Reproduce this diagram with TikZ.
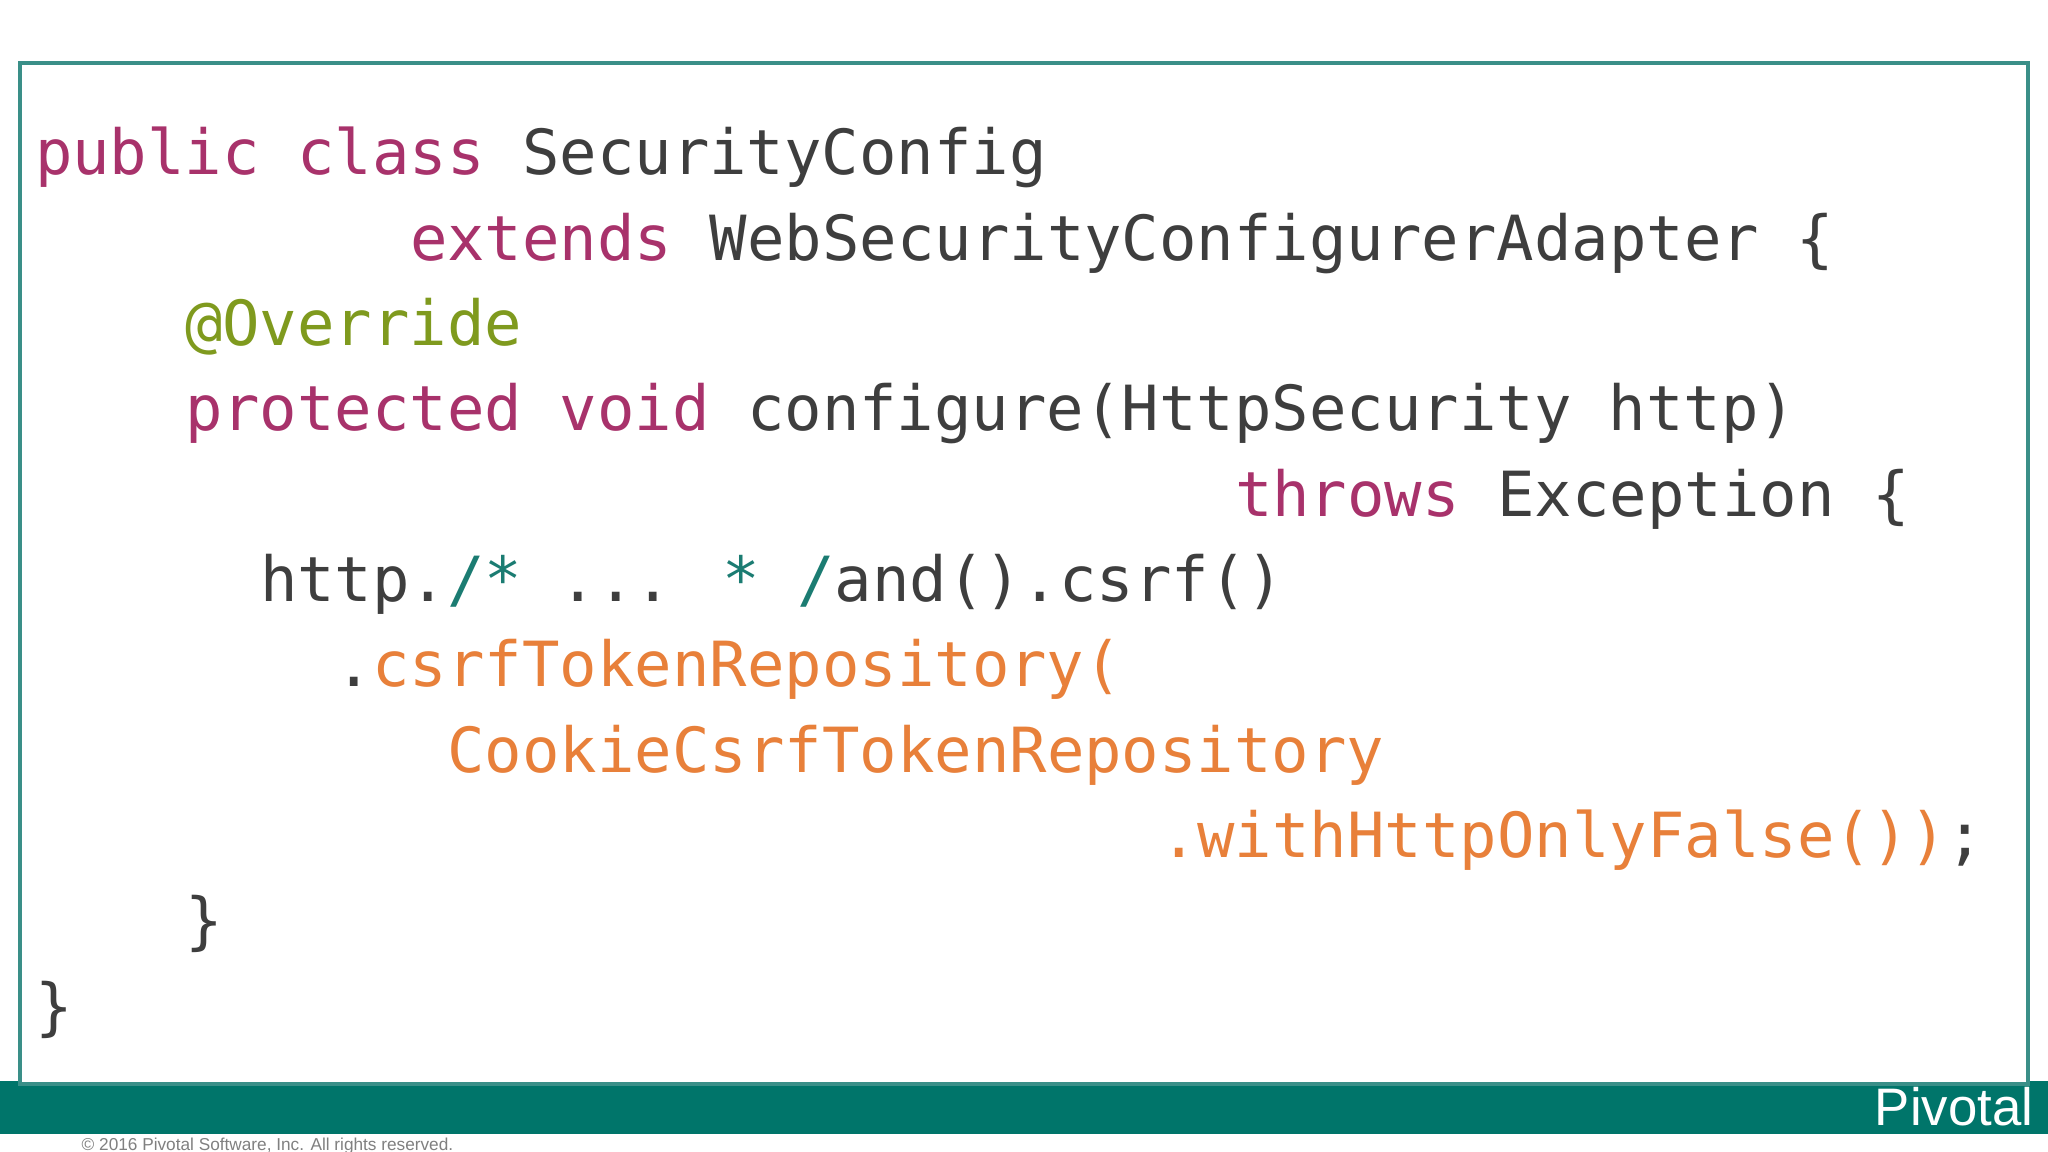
\documentclass[tikz,border=0pt]{standalone}
\usepackage{fontspec}
\setmainfont{Liberation Sans}
\newfontfamily\codefont{DejaVu Sans Mono}
\definecolor{kw}{HTML}{A8326B}
\definecolor{tx}{HTML}{3E3E3E}
\definecolor{ann}{HTML}{7F9A1E}
\definecolor{cm}{HTML}{1B7C72}
\definecolor{og}{HTML}{E8803A}
\definecolor{teal}{HTML}{00756A}
\definecolor{frame}{HTML}{3A8F88}
\begin{document}
\begin{tikzpicture}[x=0.01cm,y=-0.01cm,
  code/.style={anchor=base west,inner sep=0,outer sep=0,text=tx,font=\codefont\fontsize{17.7}{20}\selectfont}]
\useasboundingbox (0,0) rectangle (2048,1152);
\fill[white] (0,0) rectangle (2048,1152);
\fill[teal] (0,1081) rectangle (2048,1134);
\draw[frame,line width=1.3pt,fill=white] (20,63) rectangle (2028,1084);
\node[anchor=base east,text=white,inner sep=0,font=\fontsize{15}{17}\selectfont] (logo) at (2034,1125) {Pivotal};
\node[anchor=base west,text=gray,inner sep=0,font=\fontsize{4.9}{6}\selectfont] (copy) at (81,1150) {\textcopyright{} 2016 Pivotal Software, Inc. All rights reserved.};
\def\cx#1{35+#1*37.5}
\node[code] (l1) at ({\cx{0}},175) {\textcolor{kw}{public class} SecurityConfig};
\node[code] (l2) at ({\cx{10}},260.3) {\textcolor{kw}{extends} WebSecurityConfigurerAdapter \{};
\node[code] (l3) at ({\cx{4}},345.6) {\textcolor{ann}{@Override}};
\node[code] (l4) at ({\cx{4}},430.9) {\textcolor{kw}{protected void} configure(HttpSecurity http)};
\node[code] (l5) at ({\cx{32}},516.2) {\textcolor{kw}{throws} Exception \{};
\node[code] (l6) at ({\cx{6}},601.5) {http.\textcolor{cm}{/*} ... \textcolor{cm}{*} \textcolor{cm}{/}and().csrf()};
\node[code] (l7) at ({\cx{8}},686.8) {.\textcolor{og}{csrfTokenRepository(}};
\node[code] (l8) at ({\cx{11}},772.1) {\textcolor{og}{CookieCsrfTokenRepository}};
\node[code] (l9) at ({\cx{30}},857.4) {\textcolor{og}{.withHttpOnlyFalse())};};
\node[code] (l10) at ({\cx{4}},942.7) {\}};
\node[code] (l11) at ({\cx{0}},1028) {\}};
\end{tikzpicture}
\end{document}
